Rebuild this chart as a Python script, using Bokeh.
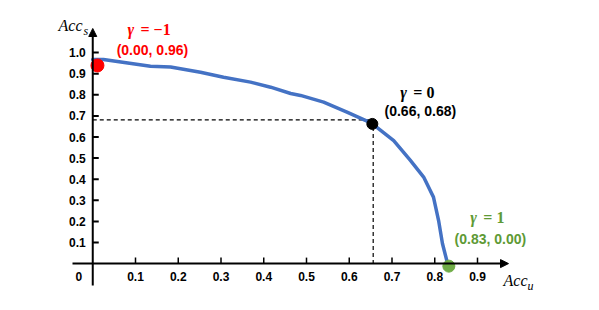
from bokeh.plotting import figure
from bokeh.models import Range1d, ColumnDataSource, Arrow, NormalHead
from bokeh.core.properties import value
from bokeh.embed import file_html
from bokeh.resources import INLINE

# ---- data ----
curve_x = [0.0, 0.025, 0.135, 0.182, 0.252, 0.306, 0.369, 0.416, 0.463, 0.486,
           0.540, 0.596, 0.652, 0.704, 0.743, 0.774, 0.797, 0.809, 0.818, 0.830]
curve_y = [0.967, 0.967, 0.935, 0.932, 0.907, 0.883, 0.860, 0.836, 0.806, 0.797,
           0.765, 0.717, 0.666, 0.583, 0.489, 0.410, 0.315, 0.204, 0.095, 0.0]

point_x = [0.011, 0.654, 0.833]
point_y = [0.939, 0.662, -0.012]
point_gamma_sym = ["γ", "γ", "γ"]
point_gamma_val = ["= −1", "= 0", "= 1"]
point_coord = ["(0.00, 0.96)", "(0.66, 0.68)", "(0.83, 0.00)"]

guide_x = 0.656
guide_y = 0.681

x_ticks = [0.1, 0.2, 0.3, 0.4, 0.5, 0.6, 0.7, 0.8, 0.9]
x_tick_labels = ["0.1", "0.2", "0.3", "0.4", "0.5", "0.6", "0.7", "0.8", "0.9"]
y_ticks = [0.1, 0.2, 0.3, 0.4, 0.5, 0.6, 0.7, 0.8, 0.9, 1.0]
y_tick_labels = ["0.1", "0.2", "0.3", "0.4", "0.5", "0.6", "0.7", "0.8", "0.9", "1.0"]

# ---- layout ----
W, H = 583, 294
PX_X = 427.5   # pixels per unit x
PX_Y = 211.0   # pixels per unit y
X0 = -92.25 / PX_X
X1 = X0 + W / PX_X
Y1 = 263.1 / PX_Y
Y0 = Y1 - H / PX_Y

def fx(px):
    return (px - 92.25) / PX_X

def fy(py):
    return (263.1 - py) / PX_Y

p = figure(width=W, height=H, x_range=Range1d(X0, X1), y_range=Range1d(Y0, Y1),
           output_backend="svg", toolbar_location=None, min_border=0,
           x_axis_type=None, y_axis_type=None)
p.outline_line_color = None
p.background_fill_color = "white"
p.border_fill_color = "white"

LBL_FONT = value("Liberation Sans")
SERIF = value("Liberation Serif")

# axes with arrows
p.add_layout(Arrow(x_start=fx(72), y_start=0, x_end=fx(508), y_end=0,
                   line_width=2, line_color="black",
                   end=NormalHead(size=8, fill_color="black", line_color="black", line_width=1)))
p.add_layout(Arrow(x_start=0, y_start=fy(285), x_end=0, y_end=fy(28),
                   line_width=2, line_color="black",
                   end=NormalHead(size=8, fill_color="black", line_color="black", line_width=1)))

# tick marks
tl_x = 6 / PX_X
tl_y = 6 / PX_Y
p.segment(x0=[0] * len(y_ticks), y0=y_ticks, x1=[tl_x] * len(y_ticks), y1=y_ticks,
          line_color="black", line_width=2)
p.segment(x0=x_ticks, y0=[0] * len(x_ticks), x1=x_ticks, y1=[tl_y] * len(x_ticks),
          line_color="black", line_width=1.5)

# tick labels
p.text(x=[0] * len(y_ticks), y=y_ticks, text=y_tick_labels, x_offset=-7,
       text_align="right", text_baseline="middle", text_font=LBL_FONT,
       text_font_style="bold", text_font_size="12px", text_color="black")
p.text(x=x_ticks, y=[0] * len(x_ticks), text=x_tick_labels, y_offset=13,
       text_align="center", text_baseline="middle", text_font=LBL_FONT,
       text_font_style="bold", text_font_size="12px", text_color="black")
p.text(x=[0], y=[0], text=["0"], x_offset=-14, y_offset=13,
       text_align="center", text_baseline="middle", text_font=LBL_FONT,
       text_font_style="bold", text_font_size="12px", text_color="black")

# axis titles
p.text(x=[fx(82)], y=[fy(25)], text=["Acc"], text_align="right", text_baseline="alphabetic",
       text_font=SERIF, text_font_style="italic", text_font_size="16px", text_color="black")
p.text(x=[fx(83)], y=[fy(30)], text=["s"], text_align="left", text_baseline="alphabetic",
       text_font=SERIF, text_font_style="italic", text_font_size="12px", text_color="black")
p.text(x=[fx(503)], y=[fy(280)], text=["Acc"], text_align="left", text_baseline="alphabetic",
       text_font=SERIF, text_font_style="italic", text_font_size="16px", text_color="black")
p.text(x=[fx(527)], y=[fy(285)], text=["u"], text_align="left", text_baseline="alphabetic",
       text_font=SERIF, text_font_style="italic", text_font_size="12px", text_color="black")

# dashed guides
p.segment(x0=[0, guide_x], y0=[guide_y, guide_y], x1=[guide_x, guide_x], y1=[guide_y, 0],
          line_color="black", line_width=1.2, line_dash="4 3")

# curve
p.line(curve_x, curve_y, line_color="#4472C4", line_width=3.5, line_join="round", line_cap="round")

# points
pts = ColumnDataSource(dict(
    x=point_x, y=point_y, gsym=point_gamma_sym, gval=point_gamma_val, coord=point_coord,
    fill=["#FF0000", "#000000", "#70AD47"],
    tcol=["#FF0000", "#000000", "#5E9A35"],
    size=[13, 11, 12],
    g1x=[30, 28, 21.5], g2x=[43, 41, 34.5], gy=[-35.5, -31.5, -49],
    cx=[55, 48, 41.5], cy=[-15.5, -12.5, -27],
))
p.scatter("x", "y", source=pts, size="size", fill_color="fill", line_color="fill")
p.text(x="x", y="y", text="gsym", source=pts, x_offset="g1x", y_offset="gy",
       text_align="left", text_baseline="middle", text_font=SERIF,
       text_font_style="bold italic", text_font_size="16px", text_color="tcol")
p.text(x="x", y="y", text="gval", source=pts, x_offset="g2x", y_offset="gy",
       text_align="left", text_baseline="middle", text_font=SERIF,
       text_font_style="bold", text_font_size="16px", text_color="tcol")
p.text(x="x", y="y", text="coord", source=pts, x_offset="cx", y_offset="cy",
       text_align="center", text_baseline="middle", text_font=LBL_FONT,
       text_font_style="bold", text_font_size="14px", text_color="tcol")

open("out.html", "w").write(file_html(p, INLINE))
